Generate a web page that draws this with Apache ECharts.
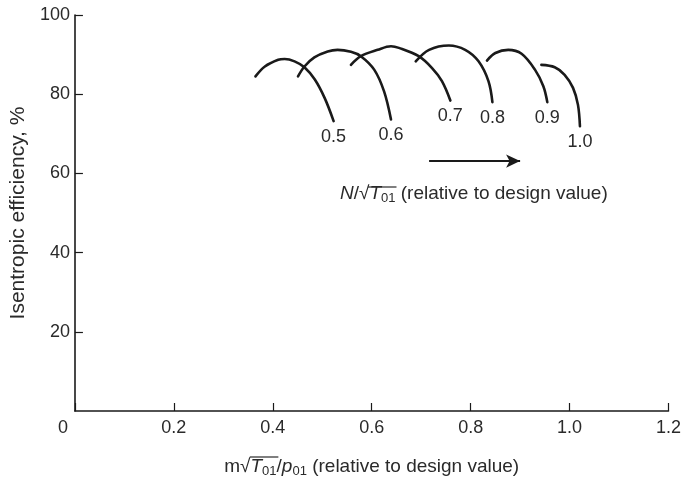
<!DOCTYPE html>
<html>
<head>
<meta charset="utf-8">
<script src="https://cdn.jsdelivr.net/npm/echarts@6/dist/echarts.min.js"></script>
<style>
  html, body { margin: 0; padding: 0; background: #fff; }
  #chart { width: 684px; height: 483px; }
</style>
</head>
<body>
<div id="chart"></div>
<script>
// Relative speed N/sqrt(T01) of each characteristic
var speeds = [0.5, 0.6, 0.7, 0.8, 0.9, 1.0];
var speedLabels = ['0.5', '0.6', '0.7', '0.8', '0.9', '1.0'];

// Mass flow parameter (relative to design) along each speed line
var flow05 = [0.365, 0.384, 0.411, 0.424, 0.444, 0.464, 0.485, 0.505, 0.523];
var flow06 = [0.451, 0.464, 0.484, 0.511, 0.531, 0.558, 0.578, 0.605, 0.625, 0.639];
var flow07 = [0.558, 0.578, 0.612, 0.639, 0.655, 0.695, 0.722, 0.742, 0.759];
var flow08 = [0.689, 0.716, 0.756, 0.789, 0.816, 0.836, 0.844];
var flow09 = [0.833, 0.850, 0.876, 0.903, 0.930, 0.947, 0.955];
var flow10 = [0.943, 0.970, 0.990, 1.007, 1.017, 1.021];

// Isentropic efficiency, %
var eff05 = [84.5, 87.0, 88.7, 88.9, 88.3, 86.8, 83.7, 79.0, 73.2];
var eff06 = [84.5, 87.0, 89.3, 90.8, 91.2, 90.7, 89.6, 86.2, 80.7, 73.6];
var eff07 = [87.4, 89.6, 91.2, 92.1, 91.7, 89.6, 86.6, 83.3, 78.4];
var eff08 = [88.3, 91.2, 92.3, 91.2, 88.3, 83.3, 78.0];
var eff09 = [88.5, 90.4, 91.2, 90.2, 86.2, 82.0, 78.0];
var eff10 = [87.4, 86.8, 84.9, 81.6, 77.3, 71.9];

var flows = [flow05, flow06, flow07, flow08, flow09, flow10];
var effs = [eff05, eff06, eff07, eff08, eff09, eff10];

// Axis ticks
var xTicks = [0, 0.2, 0.4, 0.6, 0.8, 1.0, 1.2];
var yTicks = [0, 20, 40, 60, 80, 100];

// Direction-of-increasing-speed arrow (data space)
var arrowFrom = [0.716, 63.1];
var arrowTo = [0.900, 63.1];

var ink = '#1a1a1a';
var txt = '#2a2a2a';
var font = 'Liberation Sans, Arial, sans-serif';

// text width helper, used to lay the radical's vinculum over T01
var measureCtx = document.createElement('canvas').getContext('2d');
function textW(str, size, italic) {
  measureCtx.font = (italic ? 'italic ' : '') + size + 'px "Liberation Sans", Arial, sans-serif';
  return measureCtx.measureText(str).width;
}

function pairs(xs, ys) {
  return xs.map(function (x, i) { return [x, ys[i]]; });
}

var series = speeds.map(function (s, k) {
  var pts = pairs(flows[k], effs[k]);
  var last = pts[pts.length - 1];
  var ser = {
    type: 'line',
    name: speedLabels[k],
    data: pts,
    smooth: 0.35,
    showSymbol: false,
    symbol: 'none',
    silent: true,
    lineStyle: { color: ink, width: 2.6, cap: 'round' },
    z: 3,
    markPoint: {
      silent: true,
      symbol: 'circle',
      symbolSize: 1,
      itemStyle: { color: 'rgba(0,0,0,0)' },
      label: {
        show: true,
        position: 'bottom',
        distance: 6,
        formatter: speedLabels[k],
        color: txt,
        fontSize: 18,
        fontFamily: font
      },
      data: [{ coord: last }]
    }
  };
  if (k === 0) {
    ser.markLine = {
      silent: true,
      symbol: ['none', 'arrow'],
      symbolSize: [10, 14],
      label: { show: false },
      lineStyle: { color: ink, width: 1.8, type: 'solid' },
      data: [[{ coord: arrowFrom }, { coord: arrowTo }]]
    };
  }
  return ser;
});

// geometry of the two radicals
var gridLeft = 74, gridRight = 13, chartW = 684;
var xNameParts = [['m√', 19, false], ['T', 19, true], ['01', 13, false], ['/', 19, false],
                  ['p', 19, true], ['01', 13, false], [' (relative to design value)', 19, false]];
var xNameW = xNameParts.reduce(function (a, p) { return a + textW(p[0], p[1], p[2]); }, 0);
var xNameLeft = gridLeft + (chartW - gridLeft - gridRight) / 2 - xNameW / 2;
var xBarStart = xNameLeft + textW('m√', 19, false) - 1.5;
var xBarEnd = xNameLeft + textW('m√', 19, false) + textW('T', 19, true) + textW('01', 13, false) + 1;

var annLeft = 340, annTop = 184;
var aBarStart = annLeft + textW('N', 19, true) + textW('/√', 19, false) - 1.5;
var aBarEnd = aBarStart + 1.5 + textW('T', 19, true) + textW('01', 13, false) + 1;

var chart = echarts.init(document.getElementById('chart'), null, { renderer: 'canvas' });

chart.setOption({
  animation: false,
  backgroundColor: '#fff',
  grid: { left: gridLeft, right: gridRight, top: 15, bottom: 72, containLabel: false },
  xAxis: {
    type: 'value',
    min: xTicks[0],
    max: xTicks[xTicks.length - 1],
    interval: 0.2,
    name: '{n|m√}{i|T}{s|01}{n|/}{i|p}{s|01}{n| (relative to design value)}',
    nameLocation: 'middle',
    nameGap: 45,
    nameTextStyle: {
      color: txt,
      fontFamily: font,
      rich: {
        n: { fontSize: 19, color: txt, fontFamily: font },
        i: { fontSize: 19, color: txt, fontFamily: font, fontStyle: 'italic' },
        s: { fontSize: 13, color: txt, fontFamily: font, padding: [9, 0, 0, 0] }
      }
    },
    axisLine: { show: true, onZero: false, lineStyle: { color: ink, width: 1.6 } },
    axisTick: { show: true, inside: true, length: 8, lineStyle: { color: ink, width: 1.2 } },
    axisLabel: {
      color: txt,
      fontSize: 18,
      fontFamily: font,
      margin: 8,
      formatter: function (v) {
        if (v === 0) return '{z|0}';
        return v.toFixed(1);
      },
      rich: { z: { fontSize: 18, color: txt, fontFamily: font, padding: [0, 24, 0, 0] } }
    },
    splitLine: { show: false }
  },
  yAxis: {
    type: 'value',
    min: yTicks[0],
    max: yTicks[yTicks.length - 1],
    interval: 20,
    name: 'Isentropic efficiency, %',
    nameLocation: 'middle',
    nameGap: 44,
    nameRotate: 90,
    nameTextStyle: { color: txt, fontSize: 21, fontFamily: font },
    axisLine: { show: true, onZero: false, lineStyle: { color: ink, width: 1.6 } },
    axisTick: { show: true, inside: true, length: 8, lineStyle: { color: ink, width: 1.2 } },
    axisLabel: {
      color: txt,
      fontSize: 18,
      fontFamily: font,
      margin: 5,
      showMinLabel: false,
      formatter: function (v) { return v === 0 ? '' : String(v); }
    },
    splitLine: { show: false }
  },
  series: series,
  graphic: [
    {
      type: 'text',
      left: annLeft,
      top: annTop,
      silent: true,
      style: {
        text: '{i|N}{n|/√}{i|T}{s|01}{n| (relative to design value)}',
        rich: {
          n: { fontSize: 19, fill: txt, fontFamily: font },
          i: { fontSize: 19, fill: txt, fontFamily: font, fontStyle: 'italic' },
          s: { fontSize: 13, fill: txt, fontFamily: font, padding: [9, 0, 0, 0] }
        }
      }
    },
    {
      type: 'line',
      silent: true,
      shape: { x1: aBarStart, y1: annTop + 3, x2: aBarEnd, y2: annTop + 3 },
      style: { stroke: txt, lineWidth: 1.2 }
    },
    {
      type: 'line',
      silent: true,
      shape: { x1: xBarStart, y1: 457, x2: xBarEnd, y2: 457 },
      style: { stroke: txt, lineWidth: 1.2 }
    }
  ]
});
</script>
</body>
</html>
